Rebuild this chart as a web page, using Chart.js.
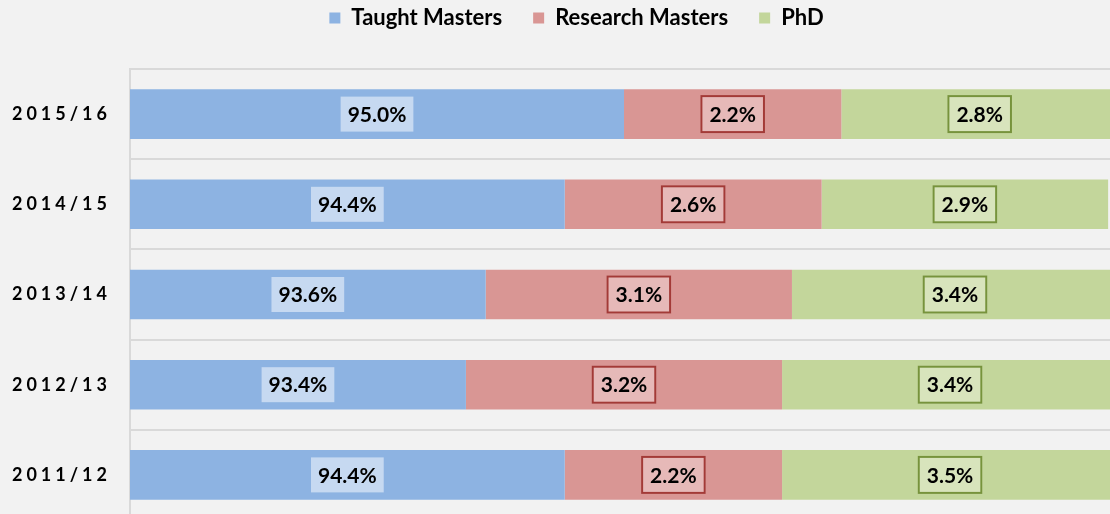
<!DOCTYPE html>
<html>
<head>
<meta charset="utf-8">
<script src="https://cdn.jsdelivr.net/npm/chart.js@4.4.1/dist/chart.umd.min.js"></script>
<style>
  html, body { margin: 0; padding: 0; background: #f2f2f2; overflow: hidden; }
  #wrap { width: 1153px; height: 520px; position: relative; }
</style>
</head>
<body>
<div id="wrap"><canvas id="enrolment-chart"></canvas></div>
<script>
// Postgraduate split by programme type, per academic year (%)
const years = ['2015/16', '2014/15', '2013/14', '2012/13', '2011/12'];
const taughtMasters = [95.0, 94.4, 93.6, 93.4, 94.4];
const researchMasters = [2.2, 2.6, 3.1, 3.2, 2.2];
const phd = [2.8, 2.9, 3.4, 3.4, 3.5];
const seriesNames = ['Taught Masters', 'Research Masters', 'PhD'];

const axisMin = 90;
const axisMax = 100;

const FONT = 'Lato';
const barColors = ['#8db3e2', '#d99694', '#c3d69b'];
const boxFills = ['#c6d9f1', '#e6b9b8', '#d8e4bc'];
const boxBorders = [null, '#a33a37', '#77933c'];

// value labels in framed boxes, centred on each segment
const segmentLabels = {
    id: 'segmentLabels',
    afterDatasetsDraw(chart) {
        const { ctx, chartArea } = chart;
        ctx.save();
        ctx.font = `bold 21px ${FONT}`;
        ctx.textAlign = 'center';
        ctx.textBaseline = 'middle';
        chart.data.datasets.forEach((ds, di) => {
            const meta = chart.getDatasetMeta(di);
            meta.data.forEach((bar, i) => {
                const left = Math.max(Math.min(bar.x, bar.base), chartArea.left);
                const right = Math.min(Math.max(bar.x, bar.base), chartArea.right);
                const cx = (left + right) / 2;
                const cy = bar.y;
                const text = ds.data[i].toFixed(1) + '%';
                const tw = ctx.measureText(text).width;
                const border = boxBorders[di];
                const w = tw + (border ? 18 : 14);
                const h = border ? 38 : 35;
                ctx.fillStyle = boxFills[di];
                ctx.fillRect(cx - w / 2, cy - h / 2, w, h);
                if (border) {
                    ctx.strokeStyle = border;
                    ctx.lineWidth = 2;
                    ctx.strokeRect(cx - w / 2 + 1, cy - h / 2 + 1, w - 2, h - 2);
                }
                ctx.fillStyle = '#000';
                ctx.fillText(text, cx, cy + 1);
            });
        });
        ctx.restore();
    }
};

// year labels, letter-spaced, right-aligned against the axis line
const yearLabels = {
    id: 'yearLabels',
    afterDraw(chart) {
        const { ctx, scales: { y } } = chart;
        ctx.save();
        ctx.font = `bold 18px ${FONT}`;
        ctx.letterSpacing = '4px';
        ctx.fillStyle = '#000';
        ctx.textAlign = 'right';
        ctx.textBaseline = 'middle';
        years.forEach((yr, i) => {
            ctx.fillText(yr, y.right - 19, y.getPixelForValue(i));
        });
        ctx.letterSpacing = '0px';
        ctx.restore();
    }
};

const ctx = document.getElementById('enrolment-chart');

new Chart(ctx, {
    type: 'bar',
    data: {
        labels: years,
        datasets: [
            { label: seriesNames[0], data: taughtMasters, backgroundColor: barColors[0], base: axisMin },
            { label: seriesNames[1], data: researchMasters, backgroundColor: barColors[1] },
            { label: seriesNames[2], data: phd, backgroundColor: barColors[2] }
        ]
    },
    options: {
        indexAxis: 'y',
        responsive: true,
        maintainAspectRatio: false,
        animation: false,
        layout: { padding: { top: -24, left: 0, right: 0, bottom: 0 } },
        datasets: {
            bar: { barPercentage: 0.55, categoryPercentage: 1.0, borderWidth: 0, clip: 0 }
        },
        scales: {
            x: {
                type: 'linear',
                stacked: true,
                min: axisMin,
                max: axisMax,
                display: false
            },
            y: {
                stacked: true,
                offset: true,
                ticks: { display: false },
                grid: { color: '#d9d9d9', lineWidth: 2, drawTicks: false, offset: true },
                border: { color: '#d9d9d9', width: 2 },
                afterFit(scale) { scale.width = 130; }
            },
            yRight: {
                type: 'linear',
                position: 'right',
                display: true,
                ticks: { display: false },
                grid: { display: false },
                border: { display: false },
                afterFit(scale) { scale.width = 35; }
            }
        },
        plugins: {
            legend: {
                position: 'top',
                labels: {
                    boxWidth: 11,
                    boxHeight: 11,
                    padding: 31,
                    color: '#000',
                    font: { family: FONT, size: 22, weight: 'bold' }
                }
            },
            tooltip: { enabled: false }
        }
    },
    plugins: [segmentLabels, yearLabels, {
        id: 'legendHeight',
        beforeInit(chart) {
            const fit = chart.legend.fit;
            chart.legend.fit = function () {
                fit.call(this);
                this.height = 93;
            };
        }
    }]
});
</script>
</body>
</html>
